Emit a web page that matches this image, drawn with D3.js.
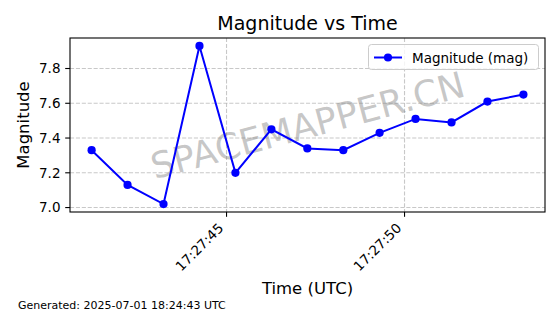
<!DOCTYPE html>
<html>
<head>
<meta charset="utf-8">
<script src="https://cdn.jsdelivr.net/npm/d3@7"></script>
<style>
  body { margin: 0; background: #fff; }
  svg { font-family: "DejaVu Sans", sans-serif; display: block; }
</style>
</head>
<body>
<div id="chart"></div>
<script>
// Observation times (UTC) and magnitudes
const times = [
    "2025-07-01T17:27:41.210Z", "2025-07-01T17:27:42.220Z", "2025-07-01T17:27:43.230Z",
    "2025-07-01T17:27:44.240Z", "2025-07-01T17:27:45.250Z", "2025-07-01T17:27:46.260Z",
    "2025-07-01T17:27:47.270Z", "2025-07-01T17:27:48.280Z", "2025-07-01T17:27:49.300Z",
    "2025-07-01T17:27:50.310Z", "2025-07-01T17:27:51.320Z", "2025-07-01T17:27:52.330Z",
    "2025-07-01T17:27:53.340Z"
];
const magnitudes = [7.33, 7.13, 7.02, 7.93, 7.20, 7.45, 7.34, 7.33, 7.43, 7.51, 7.49, 7.61, 7.65];
const yTicks = [7.0, 7.2, 7.4, 7.6, 7.8];
const xTicks = ["2025-07-01T17:27:45Z", "2025-07-01T17:27:50Z"];

const data = times.map((t, i) => ({ t: new Date(t), v: magnitudes[i] }));

// Chart dimensions
const W = 560, H = 314;
const margin = { top: 38, right: 15, bottom: 102, left: 70 };
const width = W - margin.left - margin.right;
const height = H - margin.top - margin.bottom;

const svg = d3.select("#chart")
    .append("svg")
    .attr("width", W)
    .attr("height", H);

// 5% padding like matplotlib
const tExt = d3.extent(data, d => +d.t);
const tPad = (tExt[1] - tExt[0]) * 0.05;
const vExt = d3.extent(data, d => d.v);
const vPad = (vExt[1] - vExt[0]) * 0.05;

const x = d3.scaleUtc()
    .domain([new Date(tExt[0] - tPad), new Date(tExt[1] + tPad)])
    .range([margin.left, margin.left + width]);

const y = d3.scaleLinear()
    .domain([vExt[0] - vPad, vExt[1] + vPad])
    .range([margin.top + height, margin.top]);

const xTickDates = xTicks.map(s => new Date(s));

// Grid lines
const grid = svg.append("g")
    .attr("stroke", "#b0b0b0")
    .attr("stroke-opacity", 0.7)
    .attr("stroke-width", 1.1)
    .attr("stroke-dasharray", "4.1,1.8");

grid.selectAll(".gy")
    .data(yTicks)
    .enter().append("line")
    .attr("x1", margin.left)
    .attr("x2", margin.left + width)
    .attr("y1", d => y(d))
    .attr("y2", d => y(d));

grid.selectAll(".gx")
    .data(xTickDates)
    .enter().append("line")
    .attr("x1", d => x(d))
    .attr("x2", d => x(d))
    .attr("y1", margin.top)
    .attr("y2", margin.top + height);

// Watermark
svg.append("text")
    .attr("transform", `translate(${margin.left + width / 2},${margin.top + height / 2}) rotate(-15)`)
    .attr("text-anchor", "middle")
    .attr("dy", "0.36em")
    .attr("fill", "gray")
    .attr("fill-opacity", 0.44)
    .style("font-size", "36px")
    .text("SPACEMAPPER.CN");

// Line and markers
const line = d3.line()
    .x(d => x(d.t))
    .y(d => y(d.v));

svg.append("path")
    .datum(data)
    .attr("fill", "none")
    .attr("stroke", "#0000ff")
    .attr("stroke-width", 2)
    .attr("d", line);

svg.selectAll(".pt")
    .data(data)
    .enter().append("circle")
    .attr("cx", d => x(d.t))
    .attr("cy", d => y(d.v))
    .attr("r", 4.1)
    .attr("fill", "#0000ff");

// Axes frame
svg.append("rect")
    .attr("x", margin.left)
    .attr("y", margin.top)
    .attr("width", width)
    .attr("height", height)
    .attr("fill", "none")
    .attr("stroke", "#000")
    .attr("stroke-width", 1.1);

// Y axis ticks and labels
const yAxis = svg.append("g");
yAxis.selectAll("line")
    .data(yTicks)
    .enter().append("line")
    .attr("x1", margin.left - 4.8)
    .attr("x2", margin.left)
    .attr("y1", d => y(d))
    .attr("y2", d => y(d))
    .attr("stroke", "#000")
    .attr("stroke-width", 1.1);
yAxis.selectAll("text")
    .data(yTicks)
    .enter().append("text")
    .attr("x", margin.left - 9.5)
    .attr("y", d => y(d))
    .attr("dy", "0.36em")
    .attr("text-anchor", "end")
    .style("font-size", "13.5px")
    .text(d => d3.format(".1f")(d));

// X axis ticks and labels
const xAxis = svg.append("g");
const fmt = d3.utcFormat("%H:%M:%S");
xAxis.selectAll("line")
    .data(xTickDates)
    .enter().append("line")
    .attr("x1", d => x(d))
    .attr("x2", d => x(d))
    .attr("y1", margin.top + height)
    .attr("y2", margin.top + height + 4.8)
    .attr("stroke", "#000")
    .attr("stroke-width", 1.1);
xAxis.selectAll("text")
    .data(xTickDates)
    .enter().append("text")
    .attr("transform", d => `translate(${x(d) - 2.3},${margin.top + height + 17}) rotate(-45)`)
    .attr("text-anchor", "end")
    .style("font-size", "13.5px")
    .text(d => fmt(d));

// Title
svg.append("text")
    .attr("x", margin.left + width / 2)
    .attr("y", 30)
    .attr("text-anchor", "middle")
    .style("font-size", "19px")
    .text("Magnitude vs Time");

// Axis labels
svg.append("text")
    .attr("x", margin.left + width / 2)
    .attr("y", 294)
    .attr("text-anchor", "middle")
    .style("font-size", "16.5px")
    .text("Time (UTC)");

svg.append("text")
    .attr("transform", `translate(29,${margin.top + height / 2}) rotate(-90)`)
    .attr("text-anchor", "middle")
    .style("font-size", "16.5px")
    .text("Magnitude");

// Legend
const legend = svg.append("g");
legend.append("rect")
    .attr("x", 368.5)
    .attr("y", 44.5)
    .attr("width", 170)
    .attr("height", 25)
    .attr("rx", 3)
    .attr("fill", "#fff")
    .attr("fill-opacity", 0.8)
    .attr("stroke", "#cccccc")
    .attr("stroke-width", 1);
legend.append("line")
    .attr("x1", 374)
    .attr("x2", 402)
    .attr("y1", 57.5)
    .attr("y2", 57.5)
    .attr("stroke", "#0000ff")
    .attr("stroke-width", 2);
legend.append("circle")
    .attr("cx", 388)
    .attr("cy", 57.5)
    .attr("r", 4.1)
    .attr("fill", "#0000ff");
legend.append("text")
    .attr("x", 412)
    .attr("y", 62.5)
    .style("font-size", "13.5px")
    .text("Magnitude (mag)");

// Footer
svg.append("text")
    .attr("x", 18)
    .attr("y", 309)
    .style("font-size", "11px")
    .text("Generated: 2025-07-01 18:24:43 UTC");
</script>
</body>
</html>
